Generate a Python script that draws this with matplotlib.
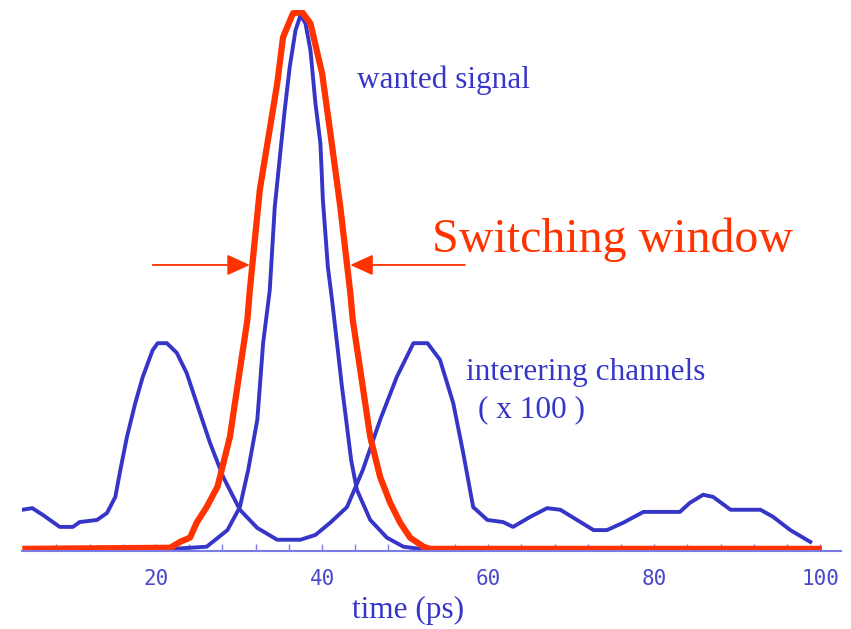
import numpy as np
import matplotlib
matplotlib.use("Agg")
import matplotlib.pyplot as plt

# interfering channels (x 100)
interf_t = [3.9, 5.1, 6.4, 8.4, 10.0, 10.8, 12.9, 14.1, 15.1, 15.7, 16.5, 17.5, 18.4,
            19.6, 20.2, 21.3, 22.5, 23.7, 24.9, 26.5, 28.1, 30.1, 32.2, 34.6, 37.4,
            39.2, 41.0, 43.0, 44.9, 47.0, 49.0, 51.0, 52.7, 54.2, 55.8, 57.0, 58.2,
            59.9, 61.8, 63.0, 65.1, 67.1, 68.7, 70.7, 72.7, 74.3, 76.3, 78.7, 83.1,
            84.3, 85.9, 87.1, 89.2, 92.8, 94.3, 96.4, 98.8]
interf_v = [0.073, 0.076, 0.063, 0.041, 0.041, 0.050, 0.054, 0.067, 0.097, 0.147, 0.209,
            0.272, 0.321, 0.371, 0.384, 0.384, 0.366, 0.328, 0.272, 0.198, 0.134, 0.073,
            0.039, 0.017, 0.017, 0.026, 0.049, 0.078, 0.147, 0.241, 0.321, 0.384, 0.384,
            0.353, 0.272, 0.179, 0.078, 0.054, 0.050, 0.041, 0.060, 0.076, 0.073, 0.054,
            0.035, 0.035, 0.049, 0.069, 0.069, 0.086, 0.101, 0.097, 0.073, 0.073, 0.060,
            0.035, 0.013]

# wanted signal
wanted_t = [22.0, 26.1, 28.6, 30.1, 31.1, 32.2, 32.5, 32.9, 33.7, 34.3, 35.0, 35.5,
            36.1, 36.8, 37.4, 38.0, 38.6, 39.2, 39.8, 40.1, 40.7, 41.2, 41.8, 42.4,
            42.9, 43.5, 44.2, 45.8, 47.8, 49.8, 51.8]
wanted_v = [0.0, 0.004, 0.035, 0.078, 0.147, 0.241, 0.302, 0.384, 0.483, 0.638, 0.744,
            0.819, 0.899, 0.968, 0.996, 0.981, 0.931, 0.832, 0.757, 0.651, 0.526, 0.465,
            0.384, 0.302, 0.241, 0.166, 0.110, 0.054, 0.021, 0.004, 0.0]

# switching window
window_t = [3.9, 21.7, 22.9, 24.1, 24.9, 26.1, 27.4, 27.7, 28.9, 30.1, 31.0, 31.3,
            32.5, 34.6, 35.3, 36.5, 37.6, 38.6, 40.0, 41.0, 42.2, 43.4, 43.7, 44.6,
            45.8, 47.0, 48.2, 49.4, 50.6, 52.2, 53.0, 100.2]
window_v = [0.0, 0.002, 0.013, 0.021, 0.049, 0.078, 0.116, 0.134, 0.209, 0.334, 0.427,
            0.483, 0.670, 0.869, 0.955, 1.0, 1.002, 0.981, 0.888, 0.776, 0.638, 0.478,
            0.427, 0.334, 0.209, 0.134, 0.086, 0.049, 0.021, 0.004, 0.0, 0.0]

xticks = [20, 40, 60, 80, 100]
arrow_level = 0.53
left_arrow = (19.6, 31.3)
right_arrow = (57.2, 43.4)

blue = '#3535c8'
red = '#ff3300'

fig = plt.figure(figsize=(8.51, 6.29), dpi=100)
ax = fig.add_axes([22 / 851, (629 - 551) / 629, (841 - 22) / 851, (551 - 10) / 629])

ax.plot(interf_t, interf_v, color=blue, lw=2.8, solid_joinstyle='round')
ax.plot(wanted_t, wanted_v, color=blue, lw=2.8, solid_joinstyle='round')
ax.plot(window_t, window_v, color=red, lw=4.5, solid_joinstyle='round', solid_capstyle='butt')

ax.set_xlim(3.86, 102.5)
ax.set_ylim(-0.004, 1.006)

for s in ['top', 'right', 'left']:
    ax.spines[s].set_visible(False)
ax.spines['bottom'].set_color('#7b7be6')
ax.spines['bottom'].set_linewidth(1.5)
ax.set_yticks([])
ax.set_xticks(xticks)
ax.set_xticks(np.arange(8, 101, 4), minor=True)
ax.tick_params(axis='x', which='both', direction='in', colors='#7b7be6', length=5, width=1)
ax.tick_params(axis='x', which='major', pad=13, labelcolor='#4a4ac8', labelsize=15)
for lab in ax.get_xticklabels():
    lab.set_family('DejaVu Sans Mono')

# arrows pointing at the switching window edges
ax.annotate('', xy=(left_arrow[1], arrow_level), xytext=(left_arrow[0], arrow_level),
            arrowprops=dict(arrowstyle='-|>,head_length=0.7,head_width=0.32', color=red,
                            lw=1.3, mutation_scale=20, shrinkA=0, shrinkB=0))
ax.annotate('', xy=(right_arrow[1], arrow_level), xytext=(right_arrow[0], arrow_level),
            arrowprops=dict(arrowstyle='-|>,head_length=0.7,head_width=0.32', color=red,
                            lw=1.3, mutation_scale=20, shrinkA=0, shrinkB=0))

serif = 'Liberation Serif'
ax.text(44.2, 0.874, 'wanted signal', color=blue, family=serif, fontsize=22.5,
        ha='left', va='center')
ax.text(53.3, 0.577, 'Switching window', color=red, family=serif, fontsize=34.5,
        ha='left', va='center')
ax.text(57.3, 0.330, 'interering channels', color=blue, family=serif, fontsize=22.5,
        ha='left', va='center')
ax.text(58.8, 0.259, '( x 100 )', color=blue, family=serif, fontsize=22.5,
        ha='left', va='center')
fig.text(408 / 851, 1 - 610 / 629, 'time (ps)', color=blue, family=serif, fontsize=22.5,
         ha='center', va='center')

fig.savefig('out.png', dpi=100)
